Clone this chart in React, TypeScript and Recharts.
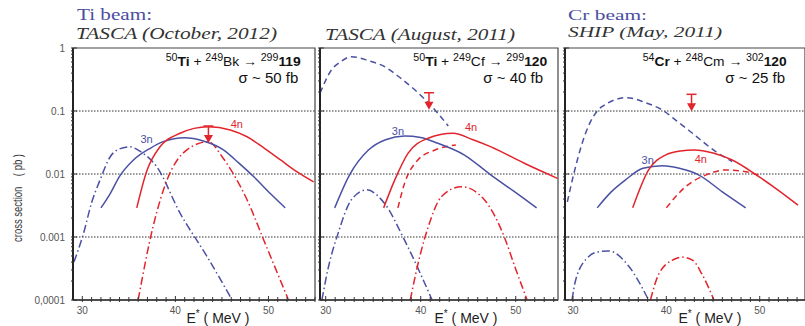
import React from 'react';
import { LineChart, Line, XAxis, YAxis, ReferenceLine, ReferenceArea, ReferenceDot } from 'recharts';

type Pt = [number, number];

const BLUE = '#4a51a3';
const RED = '#e2252c';
const AXIS = '#333';
const SANS = '"Liberation Sans", Arial, sans-serif';
const SERIF = '"Liberation Serif", "Times New Roman", serif';

// axis ticks
const xTicks = [30, 31, 32, 33, 34, 35, 36, 37, 38, 39, 40, 41, 42, 43, 44, 45, 46, 47, 48, 49, 50, 51, 52, 53, 54, 55];
const xLabelTicks = [30, 40, 50];
const yMajor = [0.0001, 0.001, 0.01, 0.1, 1];
const yMajorLabels = ['0,0001', '0.001', '0.01', '0.1', '1'];
const yMantissa = [2, 3, 4, 5, 6, 7, 8, 9];
const gridLevels = [0.001, 0.01, 0.1];

// 50Ti + 249Bk -> 119 (E*, pb)
const bk3n: Pt[] = [[32, 0.0029], [33, 0.0049], [34, 0.0092], [35.5, 0.0167], [37.3, 0.0256], [38.7, 0.0326], [41, 0.0377], [43, 0.0335], [45.2, 0.024], [46.8, 0.015], [48.4, 0.0091], [50.2, 0.0049], [51.8, 0.0029]];
const bk4n: Pt[] = [[35.85, 0.0029], [36.9, 0.0109], [38.35, 0.0271], [40.5, 0.0443], [42, 0.053], [43.55, 0.0564], [45.9, 0.05], [47.7, 0.039], [49.5, 0.026], [51.3, 0.0167], [53, 0.011], [54.85, 0.0075]];
const bk3nCalc: Pt[] = [[29.1, 0.0004], [30.1, 0.0011], [31, 0.0035], [31.9, 0.008], [33, 0.0188], [34, 0.025], [35.1, 0.027], [36.2, 0.023], [38, 0.013], [40.5, 0.0024], [43.4, 0.00049], [46.1, 0.0001]];
const bk4nCalc: Pt[] = [[36, 0.0001], [37.6, 0.00146], [39.1, 0.008], [41.2, 0.024], [43.55, 0.0326], [45, 0.019], [46.2, 0.0102], [47.7, 0.0039], [49.5, 0.00089], [52.15, 0.0001]];

// 50Ti + 249Cf -> 120
const cf3n: Pt[] = [[30.95, 0.0029], [32.5, 0.0096], [34.5, 0.024], [36.3, 0.035], [38.3, 0.04], [40, 0.038], [41.8, 0.0307], [44.6, 0.02], [47.4, 0.0096], [49.9, 0.0052], [52.2, 0.0029]];
const cf4n: Pt[] = [[36.1, 0.0029], [37.26, 0.008], [38.66, 0.0213], [40.77, 0.0369], [43.4, 0.0443], [45.5, 0.035], [47.4, 0.027], [50.9, 0.0148], [54.4, 0.0085]];
const cf3nAlt: Pt[] = [[29.4, 0.191], [30.6, 0.448], [31.6, 0.61], [32.7, 0.728], [34.5, 0.63], [36.2, 0.506], [37.8, 0.34], [39.4, 0.215], [41.5, 0.104], [42.9, 0.0578]];
const cf4nAlt: Pt[] = [[37.6, 0.0029], [38.3, 0.0071], [39.7, 0.0167], [41.5, 0.024], [43.7, 0.0289]];
const cf3nCalc: Pt[] = [[29.6, 0.0001], [30.3, 0.00034], [31.3, 0.00114], [32.7, 0.0039], [34.3, 0.0056], [36.2, 0.0034], [38.3, 0.00089], [41.2, 0.0001]];
const cf4nCalc: Pt[] = [[38.9, 0.0001], [39.9, 0.00049], [40.8, 0.00146], [42.2, 0.0044], [44.3, 0.0063], [46.7, 0.0039], [48.8, 0.001], [49.9, 0.00034], [51.2, 0.0001]];

// 54Cr + 248Cm -> 120
const cm3n: Pt[] = [[32.6, 0.0029], [34.1, 0.0052], [35.6, 0.008], [37.5, 0.0123], [39.56, 0.0135], [41.5, 0.0122], [43.5, 0.0096], [46, 0.0052], [48.5, 0.0029]];
const cm4n: Pt[] = [[36.4, 0.0029], [38.1, 0.0116], [39.9, 0.02], [41.5, 0.0232], [43, 0.024], [45, 0.0215], [47.05, 0.0167], [49.9, 0.0091], [52, 0.0055], [54.1, 0.0032]];
const cm3nAlt: Pt[] = [[29.4, 0.0036], [30.1, 0.0102], [31.35, 0.0443], [33.1, 0.117], [35.8, 0.163], [37.8, 0.135], [39.56, 0.104], [41.2, 0.068], [42.8, 0.0443], [45.3, 0.0226], [47.05, 0.0158]];
const cm4nAlt: Pt[] = [[40, 0.0029], [42.07, 0.0063], [44.2, 0.0096], [46.35, 0.0116], [48.5, 0.0109], [49.9, 0.0096]];
const cm3nCalc: Pt[] = [[29.9, 0.0001], [30.3, 0.00021], [31.7, 0.00049], [32.7, 0.00058], [33.85, 0.0006], [36, 0.00034], [38.1, 0.0001]];
const cm4nCalc: Pt[] = [[38.3, 0.0001], [39.2, 0.00026], [40.8, 0.00044], [41.7, 0.00048], [42.8, 0.00043], [43.8, 0.00026], [45.1, 0.0001]];

// upper limits (E*, cross section at the bar)
const limitBk: Pt = [43.55, 0.0578];
const limitCf: Pt = [40.87, 0.195];
const limitCm: Pt = [42.7, 0.184];

const yTicks = [
  ...yMajor,
  ...yMajor.slice(0, -1).flatMap(d => yMantissa.map(m => Number((d * m).toPrecision(2)))),
].sort((a, b) => a - b);

const toRows = (pts: Pt[]) => pts.map(([e, v]) => ({ e, v }));

const SOLID = undefined;
const DASHED = '6 4';
const DASHDOT = '8 3 1.5 3';

const panels = [
  {
    left: 0, width: 316, yw: 73, right: 1, domain: [29, 55], showY: true,
    series: [
      { d: bk3nCalc, c: BLUE, s: DASHDOT },
      { d: bk4nCalc, c: RED, s: DASHDOT },
      { d: bk3n, c: BLUE, s: SOLID },
      { d: bk4n, c: RED, s: SOLID },
    ],
    limit: limitBk,
    tags: [{ e: 36.9, v: 0.036, t: '3n', c: BLUE }, { e: 46.6, v: 0.0615, t: '4n', c: RED }],
  },
  {
    left: 316, width: 243, yw: 4, right: 1, domain: [29.4, 54.45], showY: false,
    series: [
      { d: cf3nCalc, c: BLUE, s: DASHDOT },
      { d: cf4nCalc, c: RED, s: DASHDOT },
      { d: cf3nAlt, c: BLUE, s: DASHED },
      { d: cf4nAlt, c: RED, s: DASHED },
      { d: cf3n, c: BLUE, s: SOLID },
      { d: cf4n, c: RED, s: SOLID },
    ],
    limit: limitCf,
    tags: [{ e: 37.6, v: 0.0487, t: '3n', c: BLUE }, { e: 45.3, v: 0.055, t: '4n', c: RED }],
  },
  {
    left: 561, width: 244, yw: 4, right: 0, domain: [29.15, 54.85], showY: false,
    series: [
      { d: cm3nCalc, c: BLUE, s: DASHDOT },
      { d: cm4nCalc, c: RED, s: DASHDOT },
      { d: cm3nAlt, c: BLUE, s: DASHED },
      { d: cm4nAlt, c: RED, s: DASHED },
      { d: cm3n, c: BLUE, s: SOLID },
      { d: cm4n, c: RED, s: SOLID },
    ],
    limit: limitCm,
    tags: [{ e: 38.0, v: 0.0167, t: '3n', c: BLUE }, { e: 43.7, v: 0.0173, t: '4n', c: RED }],
  },
];

const XTick = (props: any) => {
  const { x, y, payload } = props;
  const major = xLabelTicks.includes(payload.value);
  return (
    <g>
      <line x1={x} x2={x} y1={y} y2={y - (major ? 6 : 5)} stroke={AXIS} strokeWidth={1} />
      {major && (
        <text x={x} y={y + 12} textAnchor="middle" fontSize={10} fill="#555" fontFamily={SANS}>
          {payload.value}
        </text>
      )}
    </g>
  );
};

const YTick = (props: any) => {
  const { x, y, payload, showLabel } = props;
  const idx = yMajor.indexOf(payload.value);
  const major = idx >= 0;
  return (
    <g>
      <line x1={x} x2={x + (major ? 6 : 3)} y1={y} y2={y} stroke={AXIS} strokeWidth={1} />
      {major && showLabel && (
        <text x={x - 6} y={y + 3.5} textAnchor="end" fontSize={10} fill="#555" fontFamily={SANS}>
          {yMajorLabels[idx]}
        </text>
      )}
    </g>
  );
};

const Arrow = ({ cx, cy }: any) => (
  <g>
    <line x1={cx - 5} x2={cx + 5} y1={cy} y2={cy} stroke={RED} strokeWidth={1.5} />
    <line x1={cx} x2={cx} y1={cy} y2={cy + 10} stroke={RED} strokeWidth={1.5} />
    <path d={`M${cx - 4.5},${cy + 9} L${cx + 4.5},${cy + 9} L${cx},${cy + 17} Z`} fill={RED} />
  </g>
);

function Panel({ p }: { p: (typeof panels)[number] }) {
  const ticks = xTicks.filter(t => t >= p.domain[0] && t <= p.domain[1]);
  return (
    <div style={{ position: 'absolute', left: p.left, top: 0 }}>
      <LineChart width={p.width} height={326} margin={{ top: 48, right: p.right, bottom: 0, left: 0 }}>
        <XAxis
          type="number"
          dataKey="e"
          domain={p.domain}
          ticks={ticks}
          interval={0}
          allowDataOverflow
          height={26}
          tickSize={0}
          tickLine={false}
          axisLine={{ stroke: AXIS, strokeWidth: 1.5 }}
          tick={(tp: any) => <XTick {...tp} />}
        />
        <YAxis
          type="number"
          scale="log"
          domain={[0.0001, 1]}
          ticks={yTicks}
          interval={0}
          allowDataOverflow
          width={p.yw}
          tickSize={0}
          tickLine={false}
          axisLine={{ stroke: '#222', strokeWidth: 2 }}
          tick={(tp: any) => <YTick {...tp} showLabel={p.showY} />}
        />
        <ReferenceArea
          x1={p.domain[0]}
          x2={p.domain[1]}
          y1={0.0001}
          y2={1}
          fill="none"
          fillOpacity={0}
          stroke="#444"
          strokeWidth={1.2}
          ifOverflow="visible"
        />
        {gridLevels.map(g => (
          <ReferenceLine key={g} y={g} stroke="#333" strokeWidth={1} strokeDasharray="1.5 1.5" />
        ))}
        {p.series.map((s, i) => (
          <Line
            key={i}
            data={toRows(s.d)}
            dataKey="v"
            type="monotone"
            stroke={s.c}
            strokeWidth={1.5}
            strokeDasharray={s.s}
            dot={false}
            activeDot={false}
            isAnimationActive={false}
          />
        ))}
        <ReferenceDot
          x={p.limit[0]}
          y={p.limit[1]}
          r={1}
          ifOverflow="visible"
          shape={(sp: any) => <Arrow cx={sp.cx} cy={sp.cy} />}
        />
        {p.tags.map(t => (
          <ReferenceDot
            key={t.t}
            x={t.e}
            y={t.v}
            r={1}
            ifOverflow="visible"
            shape={(sp: any) => (
              <text x={sp.cx} y={sp.cy + 4} textAnchor="middle" fontSize={11} fill={t.c} fontFamily={SANS}>
                {t.t}
              </text>
            )}
          />
        ))}
      </LineChart>
    </div>
  );
}

const Reaction = ({ right, y, width, a, pa, b, pb, z, elem }: any) => (
  <text x={right} y={y} textAnchor="end" fontFamily={SANS} fill="#111" textLength={width} lengthAdjust="spacingAndGlyphs">
    <tspan fontSize={10} dy={-5}>{pa}</tspan>
    <tspan fontSize={13} dy={5} fontWeight="bold">{a}</tspan>
    <tspan fontSize={13}> + </tspan>
    <tspan fontSize={10} dy={-5}>{pb}</tspan>
    <tspan fontSize={13} dy={5}>{b}</tspan>
    <tspan fontSize={13}> → </tspan>
    <tspan fontSize={10} dy={-5}>{z}</tspan>
    <tspan fontSize={13} dy={5} fontWeight="bold">{elem}</tspan>
  </text>
);

const Sigma = ({ right, y, value }: any) => (
  <text x={right} y={y} textAnchor="end" fontFamily={SANS} fontSize={15} fill="#111">
    σ ~ {value} fb
  </text>
);

const ELabel = ({ cx }: any) => (
  <text x={cx} y={323} textAnchor="middle" fontFamily={SANS} fontSize={14} fill="#222">
    E<tspan fontSize={10} dy={-6}>*</tspan>
    <tspan dy={6}> ( MeV )</tspan>
  </text>
);

export default function App() {
  return (
    <div style={{ position: 'absolute', left: 0, top: 0, width: 805, height: 326, background: '#fff', overflow: 'hidden' }}>
      {panels.map((p, i) => (
        <Panel key={i} p={p} />
      ))}
      <svg width={805} height={326} style={{ position: 'absolute', left: 0, top: 0, pointerEvents: 'none' }}>
        <text x={77} y={20} fontFamily={SERIF} fontSize={17} fill="#4a4ea0" textLength={75} lengthAdjust="spacingAndGlyphs">Ti beam:</text>
        <text x={76} y={39} fontFamily={SERIF} fontSize={16} fontStyle="italic" fill="#333" textLength={201} lengthAdjust="spacingAndGlyphs">TASCA (October, 2012)</text>
        <text x={325} y={40} fontFamily={SERIF} fontSize={16} fontStyle="italic" fill="#333" textLength={190} lengthAdjust="spacingAndGlyphs">TASCA (August, 2011)</text>
        <text x={568} y={19.5} fontFamily={SERIF} fontSize={15} fill="#4a4ea0" textLength={79} lengthAdjust="spacingAndGlyphs">Cr beam:</text>
        <text x={568} y={36.5} fontFamily={SERIF} fontSize={15} fontStyle="italic" fill="#333" textLength={154} lengthAdjust="spacingAndGlyphs">SHIP (May, 2011)</text>

        <Reaction right={300.7} y={66} width={135} pa="50" a="Ti" pb="249" b="Bk" z="299" elem="119" />
        <Sigma right={298.3} y={83} value={50} />
        <Reaction right={547.3} y={66} width={134} pa="50" a="Ti" pb="249" b="Cf" z="299" elem="120" />
        <Sigma right={543} y={83} value={40} />
        <Reaction right={786.7} y={66} width={144} pa="54" a="Cr" pb="248" b="Cm" z="302" elem="120" />
        <Sigma right={785} y={83} value={25} />

        <text
          transform="translate(22,198) rotate(-90)"
          textAnchor="middle"
          fontFamily={SANS}
          fontSize={12}
          fill="#333"
          textLength={88}
          lengthAdjust="spacingAndGlyphs"
          style={{ whiteSpace: 'pre' }}
        >
          cross section    ( pb )
        </text>

        <ELabel cx={218} />
        <ELabel cx={466} />
        <ELabel cx={710} />
      </svg>
    </div>
  );
}
